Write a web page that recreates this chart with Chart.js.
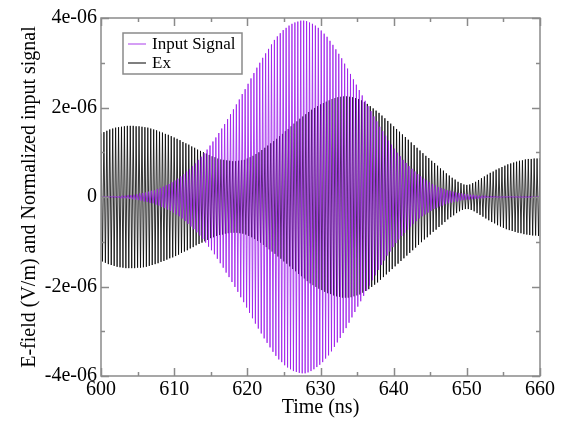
<!DOCTYPE html>
<html>
<head>
<meta charset="utf-8">
<title>E-field vs time</title>
<script src="https://cdn.jsdelivr.net/npm/chart.js@4"></script>
<style>
  html, body { margin: 0; padding: 0; background: #fff; }
  #wrap { width: 563px; height: 427px; }
</style>
</head>
<body>
<div id="wrap"><canvas id="efield" width="563" height="427"></canvas></div>
<script>
// Ex peak of every half cycle (1e-6 V/m), five per ns starting at 600 ns
const exPeaks = [
    1.42, -1.44, 1.45, -1.47, 1.48,
    -1.50, 1.51, -1.52, 1.53, -1.54,
    1.55, -1.56, 1.56, -1.57, 1.57,
    -1.58, 1.58, -1.59, 1.59, -1.59,
    1.59, -1.59, 1.59, -1.59, 1.58,
    -1.58, 1.58, -1.58, 1.57, -1.57,
    1.56, -1.56, 1.55, -1.54, 1.53,
    -1.52, 1.51, -1.50, 1.49, -1.48,
    1.46, -1.45, 1.44, -1.43, 1.41,
    -1.40, 1.39, -1.37, 1.36, -1.35,
    1.33, -1.32, 1.30, -1.29, 1.27,
    -1.25, 1.23, -1.22, 1.20, -1.19,
    1.17, -1.15, 1.13, -1.12, 1.10,
    -1.08, 1.06, -1.05, 1.03, -1.02,
    1.00, -0.99, 0.97, -0.96, 0.94,
    -0.92, 0.91, -0.90, 0.89, -0.87,
    0.86, -0.85, 0.84, -0.84, 0.83,
    -0.82, 0.82, -0.81, 0.81, -0.80,
    0.80, -0.80, 0.80, -0.80, 0.81,
    -0.81, 0.82, -0.82, 0.83, -0.84,
    0.86, -0.87, 0.89, -0.90, 0.92,
    -0.94, 0.96, -0.98, 1.00, -1.02,
    1.05, -1.07, 1.10, -1.12, 1.15,
    -1.17, 1.20, -1.22, 1.25, -1.27,
    1.30, -1.33, 1.36, -1.38, 1.41,
    -1.44, 1.47, -1.49, 1.52, -1.55,
    1.58, -1.61, 1.64, -1.66, 1.69,
    -1.72, 1.75, -1.77, 1.80, -1.82,
    1.85, -1.88, 1.90, -1.93, 1.95,
    -1.97, 1.99, -2.01, 2.03, -2.05,
    2.07, -2.08, 2.10, -2.12, 2.13,
    -2.15, 2.16, -2.17, 2.19, -2.20,
    2.21, -2.22, 2.23, -2.23, 2.24,
    -2.25, 2.25, -2.25, 2.25, -2.25,
    2.24, -2.24, 2.23, -2.22, 2.21,
    -2.20, 2.19, -2.18, 2.16, -2.14,
    2.12, -2.10, 2.08, -2.06, 2.03,
    -2.01, 1.98, -1.96, 1.93, -1.91,
    1.88, -1.85, 1.82, -1.79, 1.76,
    -1.73, 1.70, -1.67, 1.64, -1.61,
    1.58, -1.55, 1.52, -1.49, 1.46,
    -1.43, 1.40, -1.37, 1.34, -1.31,
    1.28, -1.25, 1.22, -1.19, 1.16,
    -1.13, 1.10, -1.07, 1.04, -1.01,
    0.98, -0.95, 0.92, -0.90, 0.87,
    -0.84, 0.81, -0.78, 0.76, -0.73,
    0.70, -0.67, 0.64, -0.62, 0.59,
    -0.56, 0.53, -0.50, 0.48, -0.45,
    0.43, -0.41, 0.39, -0.36, 0.34,
    -0.32, 0.31, -0.29, 0.28, -0.27,
    0.27, -0.27, 0.28, -0.29, 0.31,
    -0.32, 0.34, -0.36, 0.38, -0.40,
    0.42, -0.44, 0.46, -0.48, 0.50,
    -0.52, 0.54, -0.56, 0.57, -0.59,
    0.61, -0.63, 0.64, -0.66, 0.67,
    -0.69, 0.70, -0.72, 0.73, -0.74,
    0.75, -0.76, 0.77, -0.78, 0.79,
    -0.80, 0.81, -0.81, 0.82, -0.83,
    0.84, -0.84, 0.85, -0.85, 0.85,
    -0.86, 0.86, -0.86, 0.86, -0.87,
    0.87
];

// normalized input pulse, same units, five per ns starting at 600.1 ns
const inputPeaks = [
    0.01, -0.01, 0.01, -0.01, 0.01,
    -0.01, 0.01, -0.01, 0.02, -0.02,
    0.02, -0.02, 0.02, -0.03, 0.03,
    -0.03, 0.03, -0.03, 0.04, -0.04,
    0.04, -0.05, 0.05, -0.06, 0.06,
    -0.07, 0.08, -0.08, 0.09, -0.10,
    0.10, -0.11, 0.12, -0.13, 0.14,
    -0.14, 0.15, -0.17, 0.18, -0.19,
    0.20, -0.22, 0.23, -0.25, 0.26,
    -0.28, 0.29, -0.31, 0.33, -0.35,
    0.37, -0.39, 0.41, -0.43, 0.46,
    -0.48, 0.51, -0.54, 0.57, -0.60,
    0.62, -0.66, 0.69, -0.72, 0.75,
    -0.79, 0.83, -0.86, 0.90, -0.94,
    0.98, -1.02, 1.06, -1.11, 1.15,
    -1.19, 1.24, -1.28, 1.33, -1.38,
    1.43, -1.48, 1.53, -1.58, 1.63,
    -1.69, 1.74, -1.79, 1.85, -1.90,
    1.96, -2.01, 2.07, -2.12, 2.18,
    -2.24, 2.30, -2.35, 2.41, -2.47,
    2.53, -2.59, 2.65, -2.71, 2.77,
    -2.83, 2.89, -2.94, 3.00, -3.05,
    3.11, -3.16, 3.21, -3.26, 3.31,
    -3.36, 3.41, -3.46, 3.51, -3.55,
    3.59, -3.63, 3.66, -3.69, 3.73,
    -3.76, 3.78, -3.81, 3.83, -3.85,
    3.87, -3.89, 3.90, -3.91, 3.92,
    -3.93, 3.94, -3.94, 3.94, -3.94,
    3.93, -3.92, 3.90, -3.89, 3.87,
    -3.85, 3.83, -3.80, 3.78, -3.75,
    3.72, -3.69, 3.65, -3.61, 3.58,
    -3.54, 3.49, -3.45, 3.40, -3.35,
    3.30, -3.25, 3.20, -3.15, 3.10,
    -3.04, 2.98, -2.93, 2.87, -2.81,
    2.75, -2.69, 2.63, -2.57, 2.51,
    -2.45, 2.39, -2.33, 2.27, -2.21,
    2.15, -2.09, 2.03, -1.98, 1.92,
    -1.86, 1.80, -1.75, 1.69, -1.63,
    1.57, -1.52, 1.47, -1.42, 1.37,
    -1.31, 1.26, -1.22, 1.17, -1.12,
    1.08, -1.03, 0.99, -0.95, 0.91,
    -0.87, 0.83, -0.80, 0.76, -0.73,
    0.69, -0.66, 0.63, -0.60, 0.57,
    -0.54, 0.51, -0.48, 0.46, -0.43,
    0.41, -0.39, 0.37, -0.35, 0.33,
    -0.31, 0.29, -0.27, 0.26, -0.24,
    0.22, -0.21, 0.20, -0.19, 0.18,
    -0.16, 0.15, -0.14, 0.14, -0.13,
    0.12, -0.11, 0.10, -0.10, 0.09,
    -0.08, 0.08, -0.07, 0.07, -0.06,
    0.06, -0.06, 0.05, -0.05, 0.05,
    -0.04, 0.04, -0.04, 0.03, -0.03,
    0.03, -0.03, 0.03, -0.02, 0.02,
    -0.02, 0.02, -0.02, 0.02, -0.01,
    0.01, -0.01, 0.01, -0.01, 0.01,
    -0.01, 0.01, -0.01, 0.01, -0.01,
    0.01, -0.01, 0.01, -0.01, 0.01,
    -0.01, 0.01, -0.01, 0.01, -0.01,
    0.01, -0.01, 0.01, -0.01, 0.01,
    -0.01, 0.01, -0.01, 0.01, -0.01
];

const exStart = 600;      // ns
const inputStart = 600.1; // ns
const halfPeriod = 0.2;   // ns between samples

const xTicks = [600, 610, 620, 630, 640, 650, 660];
const yTicks = [-4e-6, -2e-6, 0, 2e-6, 4e-6];

const serif = "'Liberation Serif', 'DejaVu Serif', serif";
const frameColor = "#8a8a8a";

function toPoints(peaks, start) {
    return peaks.map((v, i) => ({ x: start + i * halfPeriod, y: v * 1e-6 }));
}

function yLabel(v) {
    const n = Math.round(v * 1e6);
    return n === 0 ? "0" : n + "e-06";
}

// box around the plot with inward major/minor ticks on all four sides
const framePlugin = {
    id: "frame",
    afterDatasetsDraw(chart) {
        const { ctx, chartArea: a, scales } = chart;
        const xs = scales.x, ys = scales.y;
        ctx.save();
        ctx.strokeStyle = frameColor;
        ctx.lineWidth = 1.5;
        ctx.strokeRect(a.left, a.top, a.right - a.left, a.bottom - a.top);
        ctx.beginPath();
        for (let t = 600; t <= 660; t += 5) {
            const px = Math.round(xs.getPixelForValue(t)) + 0.5;
            const len = t % 10 === 0 ? 8 : 4;
            ctx.moveTo(px, a.bottom); ctx.lineTo(px, a.bottom - len);
            ctx.moveTo(px, a.top); ctx.lineTo(px, a.top + len);
        }
        for (let k = -4; k <= 4; k++) {
            const py = Math.round(ys.getPixelForValue(k * 1e-6)) + 0.5;
            const len = k % 2 === 0 ? 8 : 4;
            ctx.moveTo(a.left, py); ctx.lineTo(a.left + len, py);
            ctx.moveTo(a.right, py); ctx.lineTo(a.right - len, py);
        }
        ctx.stroke();
        ctx.restore();
    }
};

// legend box in the upper left of the plot
const boxLegend = {
    id: "boxLegend",
    afterDraw(chart) {
        const ctx = chart.ctx;
        const bx = 123, by = 33, bw = 119, bh = 41;
        ctx.save();
        ctx.fillStyle = "#fff";
        ctx.fillRect(bx, by, bw, bh);
        ctx.strokeStyle = frameColor;
        ctx.lineWidth = 1.5;
        ctx.strokeRect(bx, by, bw, bh);
        ctx.font = "17px " + serif;
        ctx.textBaseline = "middle";
        chart.data.datasets.forEach((ds, i) => {
            const y = by + 11 + i * 19;
            ctx.strokeStyle = ds.legendColor;
            ctx.lineWidth = 1.5;
            ctx.beginPath();
            ctx.moveTo(bx + 5, y);
            ctx.lineTo(bx + 23, y);
            ctx.stroke();
            ctx.fillStyle = "#000";
            ctx.fillText(ds.label, bx + 29, y + 1);
        });
        ctx.restore();
    }
};

new Chart(document.getElementById("efield"), {
    type: "line",
    data: {
        datasets: [
            {
                label: "Input Signal",
                data: toPoints(inputPeaks, inputStart),
                borderColor: "rgba(155, 25, 235, 0.8)",
                legendColor: "#c77ef2",
                borderWidth: 1,
                pointRadius: 0,
                tension: 0,
                order: 0,
            },
            {
                label: "Ex",
                data: toPoints(exPeaks, exStart),
                borderColor: "#000",
                legendColor: "#555",
                borderWidth: 0.8,
                pointRadius: 0,
                tension: 0,
                order: 1,
            },
        ],
    },
    options: {
        responsive: false,
        animation: false,
        events: [],
        layout: { padding: { top: 18, right: 23, left: 0, bottom: 0 } },
        plugins: {
            legend: { display: false },
            tooltip: { enabled: false },
        },
        scales: {
            x: {
                type: "linear",
                min: 600,
                max: 660,
                afterFit(s) { s.height = 51; },
                afterBuildTicks(s) { s.ticks = xTicks.map((v) => ({ value: v })); },
                grid: { display: false, drawTicks: false },
                border: { display: false },
                ticks: {
                    padding: 2,
                    color: "#000",
                    font: { family: serif, size: 20 },
                    maxRotation: 0,
                },
                title: {
                    display: true,
                    text: "Time (ns)",
                    color: "#000",
                    font: { family: serif, size: 20 },
                    padding: { top: 0, bottom: 7 },
                },
            },
            y: {
                type: "linear",
                min: -4e-6,
                max: 4e-6,
                afterFit(s) { s.width = 101; },
                afterBuildTicks(s) { s.ticks = yTicks.map((v) => ({ value: v })); },
                grid: { display: false, drawTicks: false },
                border: { display: false },
                ticks: {
                    padding: 4,
                    color: "#000",
                    font: { family: serif, size: 20 },
                    callback: yLabel,
                },
                title: {
                    display: true,
                    text: "E-field (V/m) and Normalized input signal",
                    color: "#000",
                    font: { family: serif, size: 20 },
                    padding: { top: 18, bottom: 0 },
                },
            },
        },
    },
    plugins: [framePlugin, boxLegend],
});
</script>
</body>
</html>
